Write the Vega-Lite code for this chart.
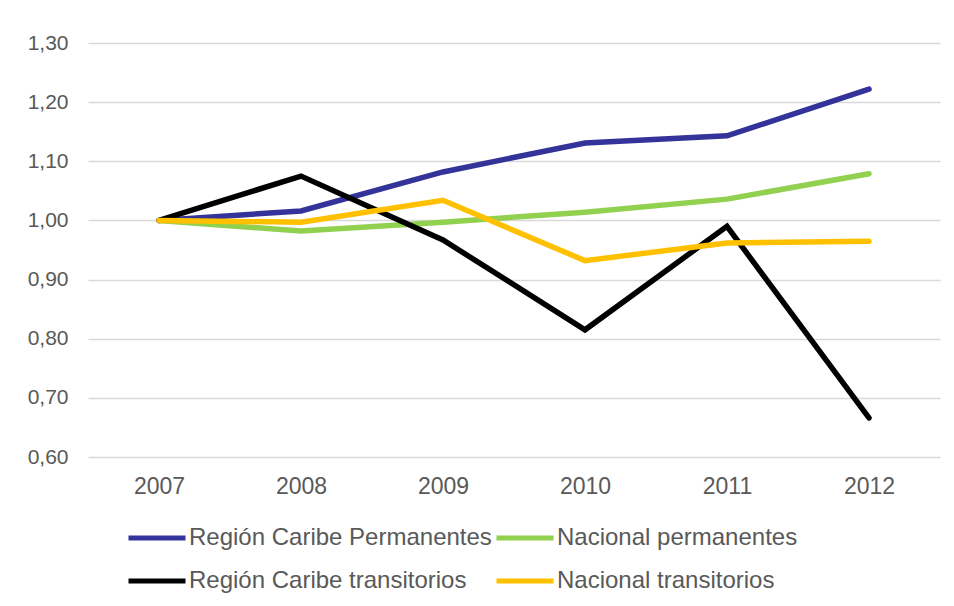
{
  "$schema": "https://vega.github.io/schema/vega-lite/v6.json",
  "width": 852,
  "height": 414,
  "autosize": "none",
  "padding": {"left": 88, "top": 43, "right": 14, "bottom": 149},
  "background": "white",
  "data": {
    "values": [
      {"year": "2007", "serie": "Región Caribe Permanentes", "valor": 1.000},
      {"year": "2008", "serie": "Región Caribe Permanentes", "valor": 1.016},
      {"year": "2009", "serie": "Región Caribe Permanentes", "valor": 1.082},
      {"year": "2010", "serie": "Región Caribe Permanentes", "valor": 1.131},
      {"year": "2011", "serie": "Región Caribe Permanentes", "valor": 1.143},
      {"year": "2012", "serie": "Región Caribe Permanentes", "valor": 1.222},
      {"year": "2007", "serie": "Nacional permanentes", "valor": 1.000},
      {"year": "2008", "serie": "Nacional permanentes", "valor": 0.982},
      {"year": "2009", "serie": "Nacional permanentes", "valor": 0.997},
      {"year": "2010", "serie": "Nacional permanentes", "valor": 1.014},
      {"year": "2011", "serie": "Nacional permanentes", "valor": 1.036},
      {"year": "2012", "serie": "Nacional permanentes", "valor": 1.079},
      {"year": "2007", "serie": "Región Caribe transitorios", "valor": 1.000},
      {"year": "2008", "serie": "Región Caribe transitorios", "valor": 1.075},
      {"year": "2009", "serie": "Región Caribe transitorios", "valor": 0.967},
      {"year": "2010", "serie": "Región Caribe transitorios", "valor": 0.815},
      {"year": "2011", "serie": "Región Caribe transitorios", "valor": 0.990},
      {"year": "2012", "serie": "Región Caribe transitorios", "valor": 0.666},
      {"year": "2007", "serie": "Nacional transitorios", "valor": 1.000},
      {"year": "2008", "serie": "Nacional transitorios", "valor": 0.997},
      {"year": "2009", "serie": "Nacional transitorios", "valor": 1.034},
      {"year": "2010", "serie": "Nacional transitorios", "valor": 0.932},
      {"year": "2011", "serie": "Nacional transitorios", "valor": 0.962},
      {"year": "2012", "serie": "Nacional transitorios", "valor": 0.965}
    ]
  },
  "mark": {"type": "line", "strokeWidth": 5.5, "strokeCap": "round", "strokeJoin": "miter"},
  "encoding": {
    "x": {
      "field": "year",
      "type": "ordinal",
      "scale": {"type": "point", "padding": 0.5},
      "axis": {
        "title": null,
        "labelAngle": 0,
        "domain": false,
        "ticks": false,
        "grid": false,
        "labelPadding": 18,
        "labelFontSize": 23,
        "labelColor": "#595959",
        "labelFont": "Liberation Sans"
      }
    },
    "y": {
      "field": "valor",
      "type": "quantitative",
      "scale": {"domain": [0.6, 1.3], "zero": false, "nice": false},
      "axis": {
        "title": null,
        "values": [0.6, 0.7, 0.8, 0.9, 1.0, 1.1, 1.2, 1.3],
        "format": ".2f",
        "domain": false,
        "ticks": false,
        "grid": true,
        "gridColor": "#d9d9d9",
        "gridWidth": 1.5,
        "labelPadding": 20,
        "labelFontSize": 21,
        "labelColor": "#595959",
        "labelFont": "Liberation Sans"
      }
    },
    "color": {
      "field": "serie",
      "type": "nominal",
      "scale": {
        "domain": ["Región Caribe Permanentes", "Nacional permanentes", "Región Caribe transitorios", "Nacional transitorios"],
        "range": ["#333399", "#92D050", "#000000", "#FFC000"]
      },
      "legend": {
        "title": null,
        "orient": "none",
        "legendX": 38,
        "legendY": 464,
        "columns": 2,
        "direction": "horizontal",
        "symbolType": "stroke",
        "symbolSize": 3249,
        "symbolStrokeWidth": 5,
        "labelFontSize": 24,
        "labelColor": "#595959",
        "labelFont": "Liberation Sans",
        "labelOffset": 1,
        "columnPadding": -6,
        "rowPadding": -14,
        "labelLimit": 400
      }
    }
  },
  "config": {
    "view": {"stroke": null},
    "locale": {"number": {"decimal": ",", "thousands": ".", "grouping": [3], "currency": ["$", ""]}}
  }
}
